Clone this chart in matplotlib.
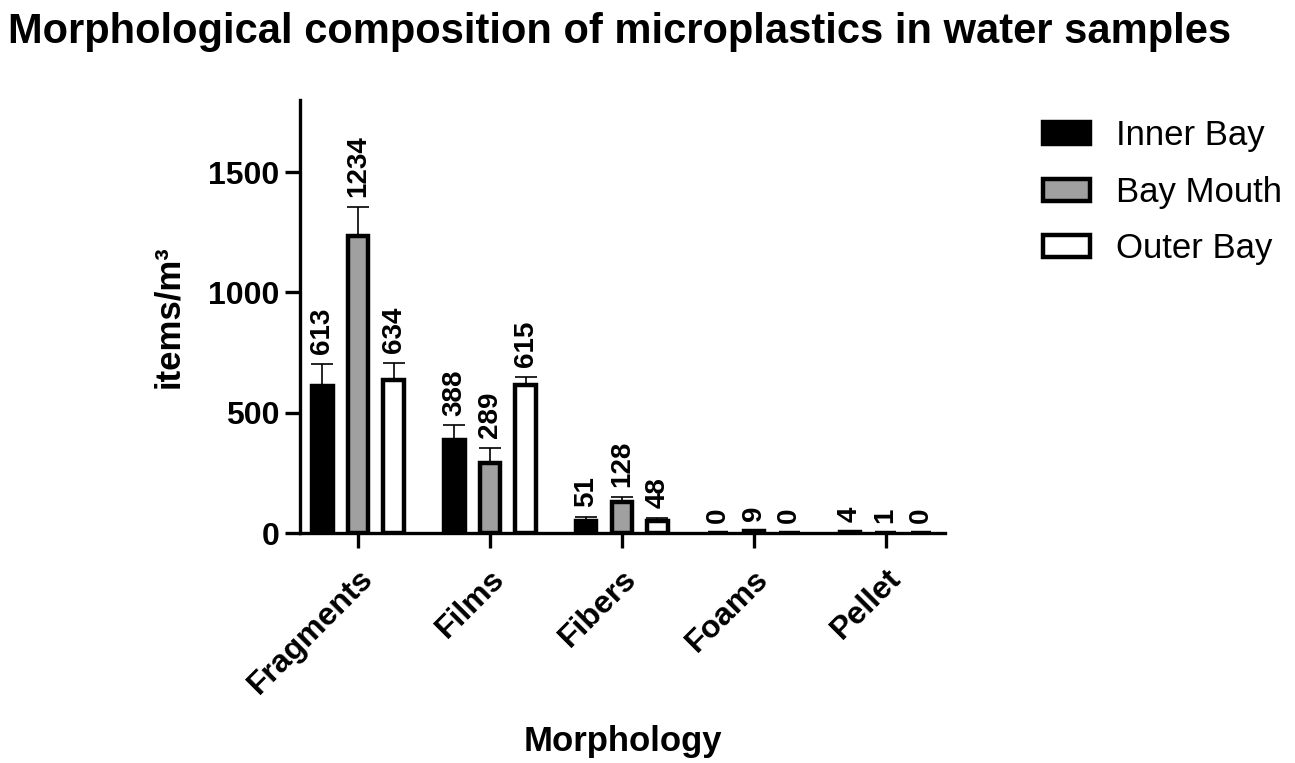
import matplotlib
matplotlib.use("Agg")
import matplotlib.pyplot as plt
import numpy as np

plt.rcParams['font.family'] = ['Liberation Sans', 'DejaVu Sans']

categories = ["Fragments", "Films", "Fibers", "Foams", "Pellet"]
series_names = ["Inner Bay", "Bay Mouth", "Outer Bay"]
inner_bay = [613, 388, 51, 0, 4]
bay_mouth = [1234, 289, 128, 9, 1]
outer_bay = [634, 615, 48, 0, 0]
inner_err = [91, 59, 17, 0, 0]
mouth_err = [121, 65, 23, 0, 0]
outer_err = [74, 35, 14, 0, 0]
yticks = [0, 500, 1000, 1500]

values = [inner_bay, bay_mouth, outer_bay]
errors = [inner_err, mouth_err, outer_err]
fills = ['black', '#a0a0a0', 'white']

fig = plt.figure(figsize=(12.95, 7.63), dpi=100)
ax = fig.add_axes([0.2317, 0.3014, 0.4980, 0.5676])

x = np.arange(len(categories))
offsets = [-0.27, 0.0, 0.27]
width = 0.155
lw = 3.2

for vals, errs, fc, off, name in zip(values, errors, fills, offsets, series_names):
    xs = x + off
    ax.bar(xs, vals, width=width, color=fc, edgecolor='black', linewidth=lw,
           label=name, zorder=3)
    ax.errorbar(xs, vals, yerr=[np.zeros(len(errs)), errs], fmt='none',
                ecolor='black', elinewidth=1.2, capsize=8, capthick=1.2, zorder=2)
    for xi, v, e in zip(xs, vals, errs):
        ax.annotate(str(v), xy=(xi, v + e), xytext=(0, 7), textcoords='offset points',
                    rotation=90, ha='center', va='bottom', fontsize=20,
                    fontweight='bold')

ax.set_xlim(-0.44, 4.45)
ax.set_ylim(0, 1800)
ax.set_yticks(yticks)
ax.set_yticklabels([str(t) for t in yticks], fontsize=23, fontweight='bold')
ax.set_xticks(x)
ax.set_xticklabels(categories, rotation=45, ha='right', rotation_mode='anchor',
                   fontsize=23, fontweight='bold')
ax.tick_params(axis='both', width=2.4, length=11)
ax.tick_params(axis='x', pad=11)
ax.tick_params(axis='y', pad=4)
for s in ['top', 'right']:
    ax.spines[s].set_visible(False)
for s in ['left', 'bottom']:
    ax.spines[s].set_linewidth(2.4)

ax.set_ylabel("items/m³", fontsize=25, fontweight='bold', labelpad=16)
ax.set_xlabel("Morphology", fontsize=25, fontweight='bold', labelpad=18)

leg = fig.legend(loc='upper left', bbox_to_anchor=(0.795, 0.862), frameon=False,
                 fontsize=25, handlelength=1.33, handleheight=0.6,
                 labelspacing=0.68, handletextpad=0.75, borderaxespad=0)

fig.text(0.006, 0.958, "Morphological composition of microplastics in water samples",
         fontsize=30, fontweight='bold', ha='left', va='center')

fig.savefig("out.png", dpi=100)
